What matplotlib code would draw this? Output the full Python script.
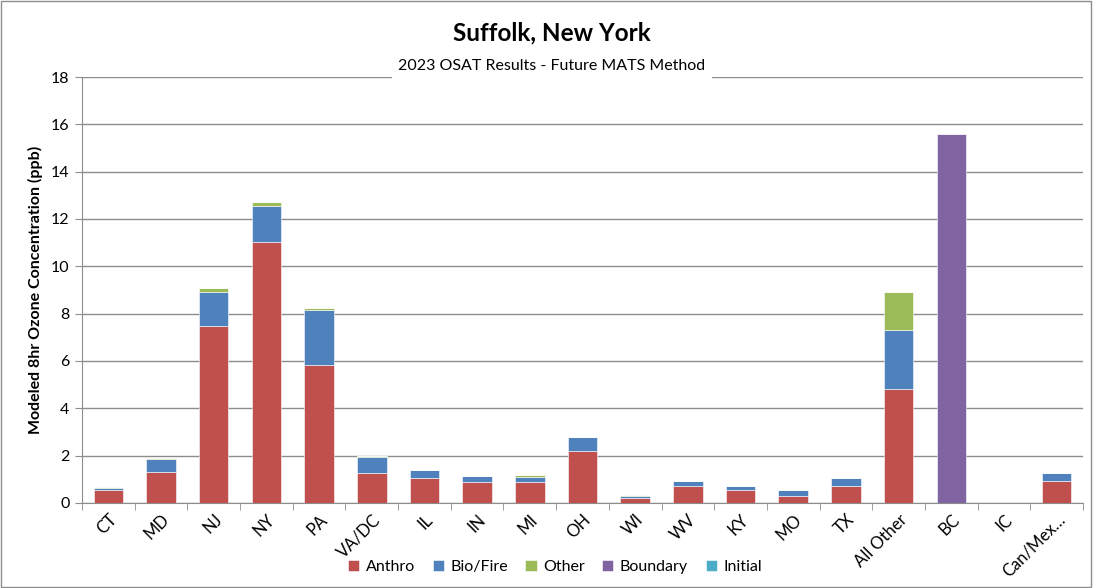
import matplotlib
matplotlib.use("Agg")
import matplotlib.pyplot as plt
import numpy as np
from matplotlib.patches import Rectangle

plt.rcParams['font.family'] = ['Lato', 'DejaVu Sans']

categories = ["CT", "MD", "NJ", "NY", "PA", "VA/DC", "IL", "IN", "MI", "OH",
              "WI", "WV", "KY", "MO", "TX", "All Other", "BC", "IC", "Can/Mex…"]
anthro =   [0.55, 1.32, 7.49, 11.03, 5.83, 1.28, 1.04, 0.87, 0.90, 2.20,
            0.21, 0.73, 0.54, 0.28, 0.73, 4.82, 0.0, 0.0, 0.94]
biofire =  [0.10, 0.55, 1.44, 1.52, 2.34, 0.66, 0.35, 0.26, 0.20, 0.58,
            0.10, 0.21, 0.19, 0.27, 0.34, 2.49, 0.0, 0.0, 0.34]
other =    [0.01, 0.04, 0.17, 0.17, 0.06, 0.04, 0.0, 0.0, 0.08, 0.0,
            0.02, 0.0, 0.0, 0.0, 0.0, 1.59, 0.0, 0.0, 0.0]
boundary = [0, 0, 0, 0, 0, 0, 0, 0, 0, 0, 0, 0, 0, 0, 0, 0, 15.59, 0, 0]
initial =  [0] * 19

series = [("Anthro", anthro, "#C0504D"), ("Bio/Fire", biofire, "#4F81BD"),
          ("Other", other, "#9BBB59"), ("Boundary", boundary, "#8064A2"),
          ("Initial", initial, "#4BACC6")]

fig = plt.figure(figsize=(10.94, 5.88), dpi=100)
ax = fig.add_axes([82/1094, 1-503/588, (1083-82)/1094, (503-77)/588])

x = np.arange(len(categories))
bottom = np.zeros(len(categories))
for name, vals, col in series:
    v = np.array(vals, dtype=float)
    ax.bar(x, v, width=0.56, bottom=bottom, color=col, label=name,
           edgecolor="white", linewidth=0.4, zorder=3)
    bottom += v

ax.set_xlim(-0.5, len(categories) - 0.5)
ax.set_ylim(0, 18)
ax.set_yticks(np.arange(0, 19, 2))
ax.yaxis.grid(True, color="#8c8c8c", linewidth=1.0, zorder=0)
ax.set_axisbelow(True)
for s in ["top", "right"]:
    ax.spines[s].set_visible(False)
for s in ["left", "bottom"]:
    ax.spines[s].set_color("#8c8c8c")
ax.tick_params(axis="y", length=5, color="#8c8c8c", labelsize=11.5, pad=4)
ax.set_xticks(x)
ax.set_xticklabels(categories, rotation=45, ha="right", rotation_mode="anchor",
                   fontsize=12)
ax.tick_params(axis="x", length=0, pad=6)
ax.set_xticks(np.arange(-0.5, len(categories), 1), minor=True)
ax.tick_params(axis="x", which="minor", length=5, color="#8c8c8c")

ax.set_ylabel("Modeled 8hr Ozone Concentration (ppb)", fontsize=11.5,
              fontweight="bold", labelpad=6)

fig.text(552/1094, 1-33/588, "Suffolk, New York", ha="center", va="center",
         fontsize=17.5, fontweight="bold")
fig.text(552/1094, 1-66/588, "2023 OSAT Results - Future MATS Method",
         ha="center", va="center", fontsize=11.5,
         bbox=dict(facecolor="white", edgecolor="none", pad=5), zorder=10)

leg = fig.legend(loc="center", bbox_to_anchor=(555/1094, 1-567/588), ncol=5,
                 frameon=False, fontsize=11.5, handlelength=0.7,
                 handleheight=0.7, columnspacing=1.1, handletextpad=0.4)

fig.patches.append(Rectangle((1/1094, 1/588), 1090/1094, 1-2/588,
                             transform=fig.transFigure, fill=False,
                             edgecolor="#8c8c8c", linewidth=1))

fig.savefig("out.png", dpi=100)
